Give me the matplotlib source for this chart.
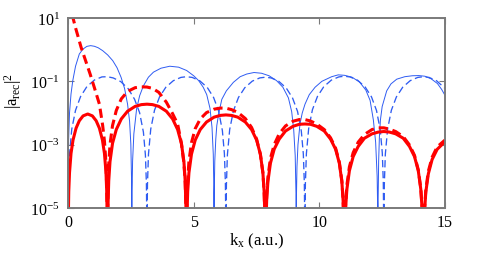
import matplotlib
matplotlib.use("Agg")
import matplotlib.pyplot as plt
from matplotlib.ticker import FixedLocator, FixedFormatter, NullLocator

plt.rcParams['font.family'] = ['Liberation Serif', 'DejaVu Serif']
plt.rcParams['mathtext.fontset'] = 'stix'

# ---------------- data ----------------
# blue, thin solid
bs_k = [0, 0.005, 0.02, 0.06, 0.12, 0.19, 0.3, 0.45, 0.6, 0.75, 0.9, 1.05, 1.2, 1.38, 1.58, 1.78, 1.95, 2.11, 2.25, 2.37, 2.45, 2.50, 2.53, 2.54,
        2.55, 2.57, 2.62, 2.73, 2.85, 3.0, 3.2, 3.4, 3.7, 4.05, 4.4, 4.72, 5.0, 5.2, 5.38, 5.52, 5.65, 5.73, 5.78, 5.80, 5.81,
        5.82, 5.84, 5.88, 5.92, 6.0, 6.12, 6.3, 6.58, 6.85, 7.11, 7.4, 7.7, 8.0, 8.3, 8.55, 8.77, 8.9, 8.98, 9.04, 9.07, 9.08,
        9.09, 9.11, 9.15, 9.23, 9.32, 9.43, 9.6, 9.83, 10.1, 10.49, 10.75, 11.0, 11.3, 11.6, 11.85, 12.02, 12.15, 12.24, 12.30, 12.32, 12.33,
        12.34, 12.36, 12.39, 12.43, 12.5, 12.68, 12.85, 13.08, 13.4, 13.7, 13.95, 14.2, 14.45, 14.7, 14.87, 15.0]
bs_v = [0, 7e-5, 1.1e-3, 0.01, 0.04, 0.105, 0.3, 0.73, 1.05, 1.27, 1.34, 1.28, 1.15, 0.93, 0.68, 0.45, 0.27, 0.135, 0.06, 0.019, 0.0055, 1.05e-3, 6.6e-5, 0,
        3.5e-5, 3e-4, 2.2e-3, 0.0135, 0.035, 0.072, 0.135, 0.195, 0.26, 0.30, 0.28, 0.22, 0.15, 0.105, 0.065, 0.038, 0.014, 3.5e-3, 5e-4, 5.5e-5, 0,
        3e-5, 3e-4, 1.5e-3, 4e-3, 0.01, 0.027, 0.05, 0.093, 0.14, 0.17, 0.19, 0.18, 0.15, 0.105, 0.065, 0.03, 0.011, 3e-3, 4.5e-4, 3e-5, 0,
        2.5e-5, 2e-4, 1e-3, 4.5e-3, 0.01, 0.019, 0.038, 0.065, 0.1, 0.14, 0.16, 0.155, 0.135, 0.095, 0.053, 0.025, 6e-3, 1.2e-3, 1e-4, 1e-5, 0,
        2e-5, 3e-4, 1.8e-3, 6e-3, 0.016, 0.05, 0.083, 0.117, 0.14, 0.15, 0.152, 0.145, 0.12, 0.085, 0.055, 0.036]

# blue, dashed
bd_k = [0, 0.005, 0.02, 0.06, 0.15, 0.3, 0.5, 0.75, 1.05, 1.35, 1.57, 1.8, 2.1, 2.4, 2.65, 2.85, 3.0, 3.08, 3.12, 3.137, 3.1416,
        3.146, 3.162, 3.202, 3.292, 3.442, 3.642, 3.892, 4.192, 4.492, 4.712, 4.942, 5.242, 5.542, 5.792, 5.992, 6.142, 6.222, 6.262, 6.279, 6.2832,
        6.288, 6.303, 6.343, 6.433, 6.583, 6.783, 7.033, 7.333, 7.633, 7.853, 8.083, 8.383, 8.683, 8.933, 9.133, 9.283, 9.363, 9.403, 9.420, 9.4248,
        9.430, 9.445, 9.485, 9.575, 9.725, 9.925, 10.175, 10.475, 10.775, 10.995, 11.225, 11.525, 11.825, 12.075, 12.275, 12.425, 12.505, 12.545, 12.562, 12.5664,
        12.571, 12.586, 12.626, 12.716, 12.866, 13.066, 13.316, 13.616, 13.916, 14.136, 14.366, 14.666, 15.0]
bd_v = [0, 3.5e-6, 5.6e-5, 5e-4, 3.1e-3, 0.0122, 0.033, 0.068, 0.11, 0.138, 0.14, 0.128, 0.098, 0.058, 0.027, 0.0102, 2.5e-3, 4.7e-4, 5.7e-5, 2.6e-6, 0,
        3.5e-6, 5.6e-5, 5.0e-4, 3.1e-3, 0.0122, 0.0322, 0.065, 0.105, 0.133, 0.14, 0.133, 0.104, 0.064, 0.031, 0.0116, 2.8e-3, 5.3e-4, 6.4e-5, 2.9e-6, 0,
        3.4e-6, 5.4e-5, 4.9e-4, 3.0e-3, 0.0118, 0.031, 0.0627, 0.1016, 0.1284, 0.135, 0.128, 0.1007, 0.0615, 0.030, 0.0112, 2.7e-3, 5.1e-4, 6.2e-5, 2.8e-6, 0,
        3.6e-6, 5.8e-5, 5.2e-4, 3.2e-3, 0.0127, 0.0333, 0.0674, 0.109, 0.138, 0.145, 0.1375, 0.108, 0.066, 0.0323, 0.012, 2.9e-3, 5.5e-4, 6.7e-5, 3e-6, 0,
        3.5e-6, 5.6e-5, 5.0e-4, 3.1e-3, 0.0122, 0.0322, 0.065, 0.105, 0.133, 0.14, 0.133, 0.104, 0.06]

# red, thick solid
rs_k = [0, 0.003, 0.01, 0.03, 0.06, 0.12, 0.2, 0.32, 0.45, 0.6, 0.785, 0.97, 1.12, 1.25, 1.37, 1.45, 1.51, 1.54, 1.56, 1.568, 1.5708,
        1.576, 1.591, 1.621, 1.671, 1.771, 1.921, 2.121, 2.371, 2.671, 2.921, 3.142, 3.362, 3.612, 3.912, 4.162, 4.362, 4.512, 4.612, 4.662, 4.692, 4.707, 4.712,
        4.717, 4.732, 4.762, 4.812, 4.912, 5.062, 5.262, 5.512, 5.812, 6.062, 6.283, 6.504, 6.754, 7.054, 7.304, 7.504, 7.654, 7.754, 7.804, 7.834, 7.849, 7.854,
        7.859, 7.874, 7.904, 7.954, 8.054, 8.204, 8.404, 8.654, 8.954, 9.204, 9.425, 9.646, 9.896, 10.196, 10.446, 10.646, 10.796, 10.896, 10.946, 10.976, 10.991, 10.996,
        11.001, 11.016, 11.046, 11.096, 11.196, 11.346, 11.546, 11.796, 12.096, 12.346, 12.566, 12.787, 13.037, 13.337, 13.587, 13.787, 13.937, 14.037, 14.087, 14.117, 14.132, 14.137,
        14.142, 14.157, 14.187, 14.237, 14.337, 14.487, 14.687, 15.0]
rs_v = [0, 3.3e-7, 3.7e-6, 3.3e-5, 1.3e-4, 5.3e-4, 1.4e-3, 3.3e-3, 5.7e-3, 8.1e-3, 9.3e-3, 8.1e-3, 5.7e-3, 3.3e-3, 1.4e-3, 5.3e-4, 1.4e-4, 3.5e-5, 4.4e-6, 2.8e-7, 0,
        7.6e-7, 1.1e-5, 7.2e-5, 2.9e-4, 1.1e-3, 3.0e-3, 6.5e-3, 0.0114, 0.0162, 0.0184, 0.019, 0.0184, 0.0162, 0.0114, 6.5e-3, 3.0e-3, 1.1e-3, 2.9e-4, 7.2e-5, 1.1e-5, 7.6e-7, 0,
        3.5e-7, 5.2e-6, 3.3e-5, 1.3e-4, 5.0e-4, 1.4e-3, 3.0e-3, 5.2e-3, 7.4e-3, 8.4e-3, 8.7e-3, 8.4e-3, 7.4e-3, 5.2e-3, 3.0e-3, 1.4e-3, 5.0e-4, 1.3e-4, 3.3e-5, 5.2e-6, 3.5e-7, 0,
        1.8e-7, 2.7e-6, 1.7e-5, 6.8e-5, 2.6e-4, 7.2e-4, 1.5e-3, 2.7e-3, 3.8e-3, 4.4e-3, 4.5e-3, 4.4e-3, 3.8e-3, 2.7e-3, 1.5e-3, 7.2e-4, 2.6e-4, 6.8e-5, 1.7e-5, 2.7e-6, 1.8e-7, 0,
        1.0e-7, 1.6e-6, 9.9e-6, 3.9e-5, 1.5e-4, 4.2e-4, 8.8e-4, 1.6e-3, 2.2e-3, 2.5e-3, 2.6e-3, 2.5e-3, 2.2e-3, 1.6e-3, 8.8e-4, 4.2e-4, 1.5e-4, 3.9e-5, 9.9e-6, 1.6e-6, 1.0e-7, 0,
        8.4e-8, 1.3e-6, 8e-6, 3.2e-5, 1.2e-4, 3.4e-4, 7.1e-4, 1.25e-3]

# red, thick dashed
rd_k = [0.05, 0.1, 0.2, 0.3, 0.4, 0.52, 0.7, 0.88, 1.05, 1.25, 1.38, 1.45, 1.5, 1.54, 1.56, 1.5708,
        1.576, 1.591, 1.621, 1.671, 1.771, 1.921, 2.121, 2.371, 2.671, 2.921, 3.142, 3.362, 3.612, 3.912, 4.162, 4.362, 4.512, 4.612, 4.662, 4.692, 4.707, 4.712,
        4.717, 4.732, 4.762, 4.812, 4.912, 5.062, 5.262, 5.512, 5.812, 6.062, 6.283, 6.504, 6.754, 7.054, 7.304, 7.504, 7.654, 7.754, 7.804, 7.834, 7.849, 7.854,
        7.859, 7.874, 7.904, 7.954, 8.054, 8.204, 8.404, 8.654, 8.954, 9.204, 9.425, 9.646, 9.896, 10.196, 10.446, 10.646, 10.796, 10.896, 10.946, 10.976, 10.991, 10.996,
        11.001, 11.016, 11.046, 11.096, 11.196, 11.346, 11.546, 11.796, 12.096, 12.346, 12.566, 12.787, 13.037, 13.337, 13.587, 13.787, 13.937, 14.037, 14.087, 14.117, 14.132, 14.137,
        14.142, 14.157, 14.187, 14.237, 14.337, 14.487, 14.687, 15.0]
rd_v = [35, 19, 10, 4.9, 2.6, 1.19, 0.45, 0.17, 0.063, 0.019, 4e-3, 1.3e-3, 3.5e-4, 5e-5, 5e-6, 0,
        2.5e-6, 4e-5, 2.5e-4, 1e-3, 4e-3, 0.012, 0.028, 0.048, 0.063, 0.067, 0.066, 0.06, 0.045, 0.022, 9.5e-3, 4.5e-3, 1.1e-3, 2.6e-4, 6.5e-5, 1e-5, 6.5e-7, 0,
        8e-7, 1.2e-5, 7.5e-5, 3e-4, 1.15e-3, 3.2e-3, 6.5e-3, 0.0103, 0.0132, 0.0143, 0.0142, 0.0128, 0.0105, 6.7e-3, 3.5e-3, 1.5e-3, 5e-4, 1.3e-4, 3.2e-5, 5e-6, 3.4e-7, 0,
        2.5e-7, 3.8e-6, 2.4e-5, 9.5e-5, 3.7e-4, 1.0e-3, 2.2e-3, 3.9e-3, 5.5e-3, 6.2e-3, 6.2e-3, 5.6e-3, 4.5e-3, 3.0e-3, 1.65e-3, 7.8e-4, 2.8e-4, 7.2e-5, 1.8e-5, 2.8e-6, 1.9e-7, 0,
        1.4e-7, 2.1e-6, 1.3e-5, 5.3e-5, 2.0e-4, 5.6e-4, 1.2e-3, 2.1e-3, 3.0e-3, 3.4e-3, 3.4e-3, 3.1e-3, 2.6e-3, 1.8e-3, 9.8e-4, 4.6e-4, 1.6e-4, 4.2e-5, 1.05e-5, 1.7e-6, 1.1e-7, 0,
        1e-7, 1.5e-6, 9.5e-6, 3.8e-5, 1.45e-4, 4e-4, 8.5e-4, 1.4e-3]

x_ticks = [0, 5, 10, 15]
x_ticklabels = ['0', '5', '10', '15']
y_ticks = [1e1, 1e-1, 1e-3, 1e-5]
y_ticklabels = [r'$\mathregular{10^{1}}$', r'$\mathregular{10^{-1}}$', r'$\mathregular{10^{-3}}$', r'$\mathregular{10^{-5}}$']
x_label = r'$\mathregular{k_x}$ (a.u.)'
y_label = r'$\mathregular{|a_{rec}|^2}$'

# ---------------- figure ----------------
fig = plt.figure(figsize=(4.91, 2.55), dpi=100)
ax = fig.add_axes([68 / 491, 1 - 209 / 255, 377 / 491, 190 / 255])
ax.set_yscale('log')

blue = '#2f5cf2'
red = '#ff0000'
ax.plot(bs_k, bs_v, color=blue, lw=0.7, solid_joinstyle='round')
ax.plot(bd_k, bd_v, color=blue, lw=0.95, dashes=(5.5, 2.8))
ax.plot(rd_k, rd_v, color=red, lw=2.2, dashes=(3.0, 1.6))
ax.plot(rs_k, rs_v, color=red, lw=2.2, solid_joinstyle='round')

ax.set_xlim(0, 15)
ax.set_ylim(1e-5, 1e1)

ax.xaxis.set_major_locator(FixedLocator(x_ticks))
ax.xaxis.set_major_formatter(FixedFormatter(x_ticklabels))
ax.yaxis.set_major_locator(FixedLocator(y_ticks))
ax.yaxis.set_major_formatter(FixedFormatter(y_ticklabels))
ax.xaxis.set_minor_locator(NullLocator())
ax.yaxis.set_minor_locator(NullLocator())

gray = '#7a7a7a'
for s in ax.spines.values():
    s.set_color(gray)
    s.set_linewidth(1.4)
ax.tick_params(which='both', direction='in', length=4, width=0.8, color=gray,
               top=True, right=True, labelsize=11.5, labelcolor='black')
ax.tick_params(axis='x', pad=4.5)
ax.tick_params(axis='y', pad=6)

ax.set_xlabel(x_label, fontsize=12)
ax.set_ylabel(y_label, fontsize=12)
ax.xaxis.set_label_coords(0.5, -0.12)
ax.yaxis.set_label_coords(-0.118, 0.62)

fig.savefig('out.png', dpi=100)
